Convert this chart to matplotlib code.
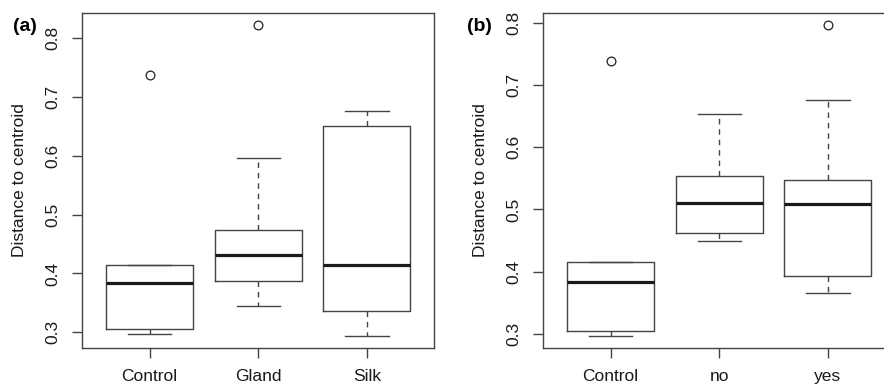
import matplotlib
matplotlib.use("Agg")
import matplotlib.pyplot as plt

plt.rcParams['font.family'] = ['Liberation Sans', 'DejaVu Sans']

# panel (a): Treatment
labels_a = ['Control', 'Gland', 'Silk']
med_a = [0.384, 0.431, 0.415]
q1_a = [0.306, 0.388, 0.337]
q3_a = [0.415, 0.474, 0.650]
lo_a = [0.298, 0.345, 0.294]
hi_a = [0.415, 0.597, 0.676]
fliers_a = [[0.738], [0.822], []]

# panel (b): yes / no
labels_b = ['Control', 'no', 'yes']
med_b = [0.384, 0.511, 0.508]
q1_b = [0.305, 0.462, 0.393]
q3_b = [0.415, 0.553, 0.548]
lo_b = [0.297, 0.449, 0.366]
hi_b = [0.415, 0.653, 0.676]
fliers_b = [[0.738], [], [0.796]]

LINE = '#444444'


def make_stats(labels, med, q1, q3, lo, hi, fliers):
    stats = []
    for i in range(len(labels)):
        stats.append({'label': labels[i], 'med': med[i], 'q1': q1[i], 'q3': q3[i],
                      'whislo': lo[i], 'whishi': hi[i], 'fliers': fliers[i]})
    return stats


def draw_panel(ax, stats):
    ax.bxp(stats, positions=[1, 2, 3], widths=0.8, capwidths=0.4,
           boxprops=dict(color=LINE, linewidth=1.0),
           medianprops=dict(color='#1a1a1a', linewidth=2.3, solid_capstyle='butt'),
           whiskerprops=dict(color=LINE, linewidth=1.0, linestyle=(0, (4, 3.5))),
           capprops=dict(color=LINE, linewidth=1.0),
           flierprops=dict(marker='o', markersize=6.3, markerfacecolor='none',
                           markeredgecolor='#222222', markeredgewidth=0.9))
    vals = [v for s in stats for v in [s['whislo'], s['whishi']] + list(s['fliers'])]
    lo, hi = min(vals), max(vals)
    pad = (hi - lo) * 0.04
    ax.set_ylim(lo - pad, hi + pad)
    ax.set_xlim(0.38, 3.62)
    ax.set_yticks([0.3, 0.4, 0.5, 0.6, 0.7, 0.8])
    ax.set_yticklabels(['0.3', '0.4', '0.5', '0.6', '0.7', '0.8'], rotation=90, va='center')
    ax.tick_params(axis='both', direction='out', length=7.5, width=1.0, color=LINE,
                   labelsize=12.5, labelcolor='#1a1a1a')
    ax.tick_params(axis='y', pad=8)
    ax.tick_params(axis='x', pad=7.5)
    for sp in ax.spines.values():
        sp.set_color(LINE)
        sp.set_linewidth(1.0)
    ax.set_ylabel('Distance to centroid', fontsize=12.5, color='#1a1a1a')
    ax.yaxis.set_label_coords(-0.156, 0.5)


fig = plt.figure(figsize=(8.84, 3.85), dpi=100)
ax1 = fig.add_axes([0.0931, 0.0953, 0.3982, 0.8717])
ax2 = fig.add_axes([0.6146, 0.0953, 0.3982, 0.8717])

draw_panel(ax1, make_stats(labels_a, med_a, q1_a, q3_a, lo_a, hi_a, fliers_a))
draw_panel(ax2, make_stats(labels_b, med_b, q1_b, q3_b, lo_b, hi_b, fliers_b))

fig.text(12.5 / 884, 1 - 26.5 / 385, '(a)', fontsize=14, fontweight='bold', va='center', ha='left')
fig.text(467 / 884, 1 - 26.5 / 385, '(b)', fontsize=14, fontweight='bold', va='center', ha='left')

fig.savefig('out.png', dpi=100)
